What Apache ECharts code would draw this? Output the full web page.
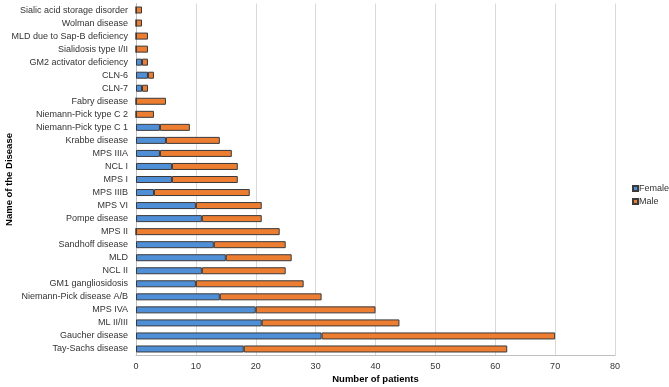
<!DOCTYPE html>
<html>
<head>
<meta charset="utf-8">
<script src="https://cdn.jsdelivr.net/npm/echarts@6/dist/echarts.min.js"></script>
<style>
  html, body { margin: 0; padding: 0; background: #fff; }
  #chart { width: 669px; height: 387px; }
</style>
</head>
<body>
<div id="chart"></div>
<script>
// diseases, top to bottom
const diseases = [
  'Sialic acid storage disorder', 'Wolman disease', 'MLD due to Sap-B deficiency',
  'Sialidosis type I/II', 'GM2 activator deficiency', 'CLN-6', 'CLN-7',
  'Fabry disease', 'Niemann-Pick type C 2', 'Niemann-Pick type C 1',
  'Krabbe disease', 'MPS IIIA', 'NCL I', 'MPS I', 'MPS IIIB', 'MPS VI',
  'Pompe disease', 'MPS II', 'Sandhoff disease', 'MLD', 'NCL II',
  'GM1 gangliosidosis', 'Niemann-Pick disease A/B', 'MPS IVA', 'ML II/III',
  'Gaucher disease', 'Tay-Sachs disease'
];
const female = [0, 0, 0, 0, 1, 2, 1, 0, 0, 4, 5, 4, 6, 6, 3, 10, 11, 0, 13, 15, 11, 10, 14, 20, 21, 31, 18];
const male   = [1, 1, 2, 2, 1, 1, 1, 5, 3, 5, 9, 12, 11, 11, 16, 11, 10, 24, 12, 11, 14, 18, 17, 20, 23, 39, 44];
const xTicks = [0, 10, 20, 30, 40, 50, 60, 70, 80];

const font = 'Liberation Sans, Arial, sans-serif';
const chart = echarts.init(document.getElementById('chart'));

chart.setOption({
  animation: false,
  textStyle: { fontFamily: font },
  grid: { left: 136, right: 54, top: 3.5, bottom: 31.5, outerBoundsMode: 'none', containLabel: false },
  legend: {
    orient: 'vertical',
    left: 632,
    top: 184,
    padding: 0,
    itemWidth: 5,
    itemHeight: 5,
    itemGap: 4,
    icon: 'rect',
    textStyle: { fontSize: 9, lineHeight: 9, color: '#333', padding: [0, 0, 0, -4] },
    data: ['Female', 'Male']
  },
  xAxis: {
    type: 'value',
    min: xTicks[0],
    max: xTicks[xTicks.length - 1],
    interval: 10,
    name: 'Number of patients',
    nameLocation: 'middle',
    nameGap: 19,
    nameMoveOverlap: false,
    nameTextStyle: { fontSize: 9.5, fontWeight: 'bold', color: '#000' },
    axisLine: { show: true, lineStyle: { color: '#bfbfbf' } },
    axisTick: { show: false },
    axisLabel: { fontSize: 9, color: '#333', margin: 7 },
    splitLine: { lineStyle: { color: '#d9d9d9' } }
  },
  yAxis: {
    type: 'category',
    inverse: true,
    data: diseases,
    name: 'Name of the Disease',
    nameLocation: 'middle',
    nameGap: 122,
    nameRotate: 90,
    nameMoveOverlap: false,
    nameTextStyle: { fontSize: 9.5, fontWeight: 'bold', color: '#000' },
    axisLine: { lineStyle: { color: '#bfbfbf' } },
    axisTick: { show: false },
    axisLabel: { fontSize: 9, color: '#333', margin: 8, interval: 0 }
  },
  series: [
    {
      name: 'Female',
      type: 'bar',
      stack: 'total',
      barWidth: 7,
      data: female,
      itemStyle: { color: '#4f8fd8', borderColor: '#3a3a3a', borderWidth: 1 }
    },
    {
      name: 'Male',
      type: 'bar',
      stack: 'total',
      barWidth: 7,
      data: male,
      itemStyle: { color: '#ed7d31', borderColor: '#3a3a3a', borderWidth: 1 }
    }
  ]
});
</script>
</body>
</html>
